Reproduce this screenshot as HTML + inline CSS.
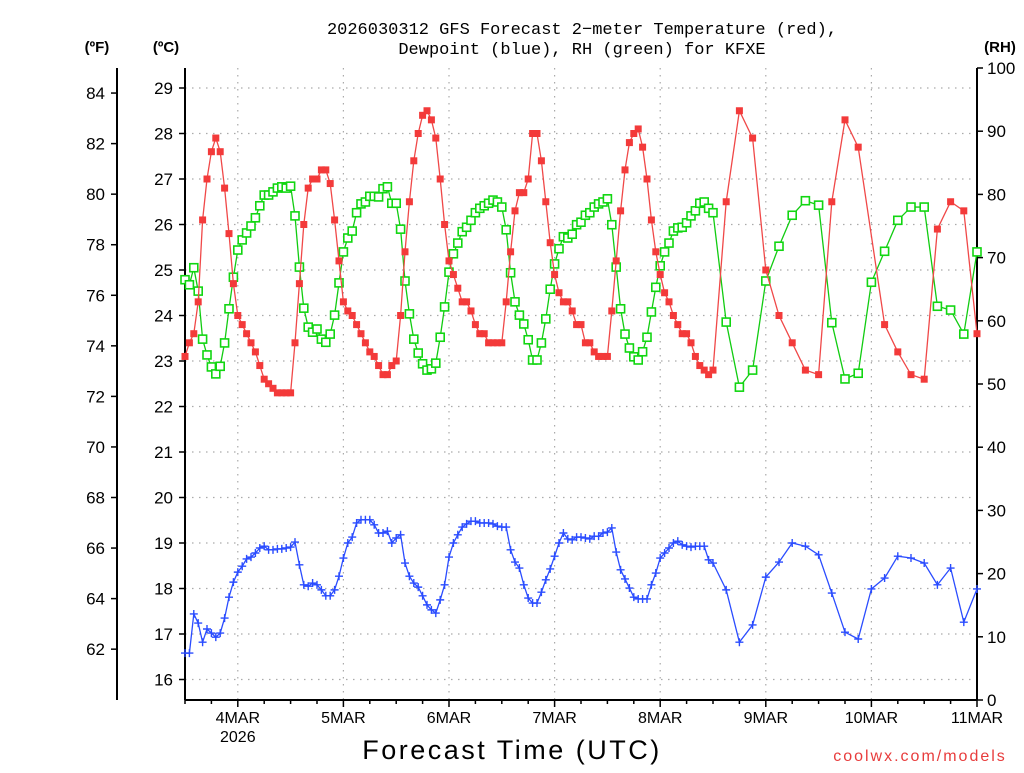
<!DOCTYPE html>
<html><head><meta charset="utf-8"><style>
html,body{margin:0;padding:0;background:#fff;}
svg text{font-family:"Liberation Sans",sans-serif;}
</style></head><body>
<svg id="chart" width="1024" height="768" viewBox="0 0 1024 768" xmlns="http://www.w3.org/2000/svg">
<g font-size="17" fill="#000" text-anchor="middle" style="font-family:'Liberation Mono',monospace">
<text x="582" y="34" style="font-family:'Liberation Mono',monospace">2026030312 GFS Forecast 2−meter Temperature (red),</text>
<text x="582" y="54" style="font-family:'Liberation Mono',monospace">Dewpoint (blue), RH (green) for KFXE</text>
</g>
<text x="97" y="52" font-size="15" font-weight="bold" text-anchor="middle">(ºF)</text>
<text x="166" y="52" font-size="15" font-weight="bold" text-anchor="middle">(ºC)</text>
<text x="1000" y="52" font-size="15" font-weight="bold" text-anchor="middle">(RH)</text>
<g id="grid"></g>
<g id="axes"></g>
<g id="series"></g>
<text x="512" y="759" font-size="27" text-anchor="middle" letter-spacing="2.5">Forecast Time (UTC)</text>
<text x="920" y="761" font-size="16" fill="#e83c3c" text-anchor="middle" letter-spacing="2">coolwx.com/models</text>
</svg>
<script>
// hourly data: index = forecast hour 0..120
const tempHourly = [23.1,23.4,23.6,24.3,26.1,27.0,27.6,27.9,27.6,26.8,25.8,24.7,24.0,23.8,23.6,23.4,23.2,22.9,22.6,22.5,22.4,22.3,22.3,22.3,22.3,23.4,24.7,26.0,26.8,27.0,27.0,27.2,27.2,26.9,26.1,25.2,24.3,24.1,24.0,23.8,23.6,23.4,23.2,23.1,22.9,22.7,22.7,22.9,23.0,24.0,25.4,26.5,27.4,28.0,28.4,28.5,28.3,27.9,27.0,26.0,25.2,24.9,24.6,
24.3,24.3,24.1,23.8,23.6,23.6,23.4,23.4,23.4,23.4,24.3,25.4,26.3,26.7,26.7,27.0,28.0,28.0,27.4,26.5,25.6,24.9,24.5,24.3,24.3,24.1,23.8,23.8,23.4,23.4,23.2,23.1,23.1,23.1,24.1,25.2,26.3,27.2,27.8,28.0,28.1,27.7,27.0,26.1,25.4,24.9,24.5,24.3,24.0,23.8,23.6,23.6,23.4,23.1,22.9,22.8,22.7,22.8];
const rhHourly = [66.5,65.7,68.4,64.7,57.1,54.6,52.7,51.6,52.8,56.5,61.9,66.9,71.2,72.8,73.9,75.0,76.3,78.2,79.9,79.9,80.4,81.0,81.2,81.0,81.3,76.6,68.5,62.0,59.0,58.2,58.7,57.1,56.6,57.9,60.9,66.0,70.9,73.1,74.2,77.1,78.5,78.8,79.7,79.7,79.6,80.9,81.2,78.6,78.6,74.5,66.3,61.1,57.1,54.9,53.2,52.2,52.4,53.3,57.4,62.2,67.7,70.6,72.3,
74.1,74.8,75.9,77.1,77.8,78.2,78.6,79.1,78.8,78.0,74.4,67.6,63.0,60.9,59.5,57.0,53.8,53.8,56.5,60.3,65.0,69.0,71.4,73.3,73.1,73.7,75.2,75.6,76.7,77.1,78.0,78.5,78.8,79.3,75.2,68.5,61.9,57.9,55.7,54.3,53.8,55.1,57.4,61.4,65.3,68.7,70.9,72.3,74.2,74.7,74.8,75.5,76.6,77.4,78.6,78.8,77.8,77.1];
const dewHourly = [16.58,16.58,17.44,17.24,16.82,17.11,17.02,16.93,17.02,17.35,17.81,18.14,18.36,18.49,18.65,18.69,18.78,18.89,18.93,18.85,18.85,18.87,18.87,18.89,18.91,19.02,18.52,18.08,18.05,18.12,18.08,17.97,17.84,17.84,17.97,18.27,18.67,19.00,19.13,19.44,19.51,19.51,19.51,19.40,19.22,19.22,19.26,19.00,19.11,19.18,18.56,18.27,18.12,18.03,17.84,17.64,17.53,17.46,17.75,18.08,18.69,19.00,19.18,19.35,19.42,19.48,19.48,19.44,19.44,19.44,19.42,19.37,19.35,19.35,18.85,18.58,18.45,18.08,17.79,17.68,17.68,17.92,18.19,18.43,18.71,19.00,19.22,19.09,19.07,19.13,19.13,19.11,19.09,19.15,19.15,19.22,19.24,19.33,18.80,18.41,18.21,18.01,17.81,17.77,17.77,17.77,18.08,18.34,18.67,18.78,18.89,19.00,19.04,18.96,18.93,18.91,18.93,18.93,18.93,18.63,18.56];
// 3-hourly data after hour 120
const lateHours = [123,126,129,132,135,138,141,144,147,150,153,156,159,162,165,168,171,174,177,180];
const tempLate = [26.5,28.5,27.9,25.0,24.0,23.4,22.8,22.7,26.5,28.3,27.7,null,23.8,23.2,22.7,22.6,25.9,26.5,26.3,23.6];
const rhLate = [59.8,49.5,52.2,66.3,71.8,76.7,79.0,78.3,59.7,50.8,51.7,66.1,71.0,75.9,78.0,78.0,62.3,61.7,57.9,70.9];
const dewLate = [17.97,16.82,17.20,18.25,18.58,19.00,18.93,18.74,17.90,17.04,16.89,17.99,18.23,18.71,18.67,18.56,18.08,18.45,17.26,17.99];
const celsiusTicks = [16,17,18,19,20,21,22,23,24,25,26,27,28,29];
const fahrenheitTicks = [62,64,66,68,70,72,74,76,78,80,82,84];
const rhTicks = [0,10,20,30,40,50,60,70,80,90,100];
const dayLabels = ["4MAR","5MAR","6MAR","7MAR","8MAR","9MAR","10MAR","11MAR"];
const dayHours = [12,36,60,84,108,132,156,180];

const NS="http://www.w3.org/2000/svg";
const X0=185,X1=977,YT=68,YB=700;
const xOf=h=>X0+h*(X1-X0)/180;
const yC=c=>88+(29-c)*45.5;
const yF=f=>yC((f-32)/1.8);
const yRH=r=>YB-r*(YB-YT)/100;
function mk(tag,attrs,parent){const e=document.createElementNS(NS,tag);for(const k in attrs)e.setAttribute(k,attrs[k]);parent.appendChild(e);return e;}
const grid=document.getElementById('grid'),axes=document.getElementById('axes'),ser=document.getElementById('series');

celsiusTicks.forEach(c=>{const l=mk('line',{x1:X0,x2:X1,y1:yC(c),y2:yC(c),stroke:'#aaa','stroke-width':1.2,'stroke-dasharray':'1.5 5.5'},grid);

});
dayHours.forEach(h=>{if(h>=180)return;const l=mk('line',{x1:xOf(h),x2:xOf(h),y1:YT,y2:YB,stroke:'#aaa','stroke-width':1.2,'stroke-dasharray':'1.5 5.5'},grid);

});

[[X0,YT,X0,YB],[X1,YT,X1,YB],[X0,YB,X1,YB],[117,YT,117,YB]].forEach(a=>{const l=mk('line',{x1:a[0],y1:a[1],x2:a[2],y2:a[3],stroke:'#000','stroke-width':2},axes);

});
celsiusTicks.forEach(c=>{const y=yC(c);mk('line',{x1:X0-6,x2:X0,y1:y,y2:y,stroke:'#000','stroke-width':1.5},axes);
const t=mk('text',{x:173,y:y+6,'font-size':17,'text-anchor':'end'},axes);t.textContent=c;

});
fahrenheitTicks.forEach(f=>{const y=yF(f);mk('line',{x1:111,x2:117,y1:y,y2:y,stroke:'#000','stroke-width':1.5},axes);
const t=mk('text',{x:105,y:y+6,'font-size':17,'text-anchor':'end'},axes);t.textContent=f;

});
rhTicks.forEach(r=>{const y=yRH(r);mk('line',{x1:X1,x2:X1+6,y1:y,y2:y,stroke:'#000','stroke-width':1.5},axes);
const t=mk('text',{x:987,y:y+6,'font-size':17,'text-anchor':'start'},axes);t.textContent=r;

});
for(let h=0;h<=180;h+=6){mk('line',{x1:xOf(h),x2:xOf(h),y1:YB,y2:YB+((h-12)%24===0?7:4),stroke:'#000','stroke-width':1.5},axes);}
dayHours.forEach((h,i)=>{const t=mk('text',{x:xOf(h),y:723,'font-size':16,'text-anchor':'middle'},axes);t.textContent=dayLabels[i];

});
const yr=mk('text',{x:xOf(12),y:742,'font-size':16,'text-anchor':'middle'},axes);yr.textContent='2026';



function collect(hourly,late,yfn){const pts=[];hourly.forEach((v,h)=>{if(v!=null)pts.push([xOf(h),yfn(v)]);});late.forEach((v,i)=>{if(v!=null)pts.push([xOf(lateHours[i]),yfn(v)]);});return pts;}
function drawSeries(pts,color,name,marker){
 const g=mk('g',{},ser);
 
 
 mk('polyline',{points:pts.map(p=>p.join(',')).join(' '),fill:'none',stroke:color,'stroke-width':1.3},g);
 pts.forEach(p=>{let m;
  if(marker==='fill')m=mk('rect',{x:p[0]-3.5,y:p[1]-3.5,width:7,height:7,fill:'#f33a3a'},g);
  else if(marker==='hollow')m=mk('rect',{x:p[0]-4,y:p[1]-4,width:8,height:8,fill:'#fff',stroke:'#11d611','stroke-width':1.6},g);
  else m=mk('path',{d:`M${p[0]-4},${p[1]}H${p[0]+4}M${p[0]},${p[1]-4}V${p[1]+4}`,stroke:'#2a4cff','stroke-width':1.4},g);
  
  });
}
drawSeries(collect(rhHourly,rhLate,yRH),'#11cc11','rh-series','hollow');
drawSeries(collect(tempHourly,tempLate,yC),'#f04848','temperature-series','fill');
drawSeries(collect(dewHourly,dewLate,yC),'#2a4cff','dewpoint-series','plus');
</script>
</body></html>
